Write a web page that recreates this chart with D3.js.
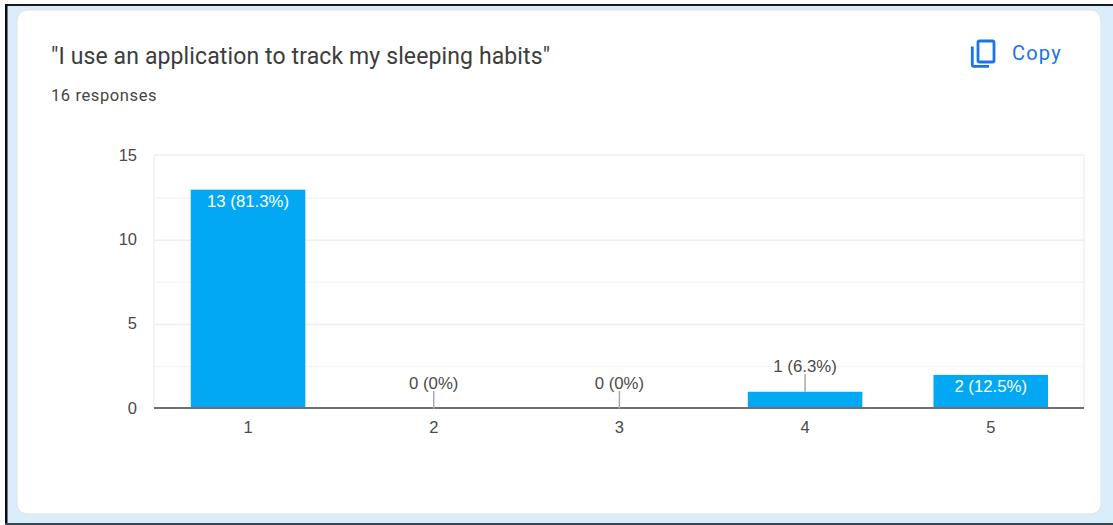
<!DOCTYPE html>
<html>
<head>
<meta charset="utf-8">
<script src="https://cdn.jsdelivr.net/npm/d3@7"></script>
<style>
  html, body { margin: 0; padding: 0; background: #d9eefa; overflow: hidden; }
  svg { display: block; }
  text { font-family: Roboto, Arial, sans-serif; }
  .value, .tick-label { font-family: "Liberation Sans", Arial, sans-serif; }
</style>
</head>
<body>
<svg id="chart" width="1113" height="525"></svg>
<script>
// Survey results for one linear-scale question
const categories = ["1", "2", "3", "4", "5"];
const counts = [13, 0, 0, 1, 2];
const percentLabels = ["81.3%", "0%", "0%", "6.3%", "12.5%"];
const majorTicks = [0, 5, 10, 15];
const gridValues = [2.5, 5, 7.5, 10, 12.5];

const titleText = "\"I use an application to track my sleeping habits\"";
const subtitleText = "16 responses";
const copyText = "Copy";

const svg = d3.select("#chart");

// Page frame and card
svg.append("rect").attr("x", 0).attr("y", 0).attr("width", 1113).attr("height", 525).attr("fill", "#d9eefa");
svg.append("rect").attr("x", 0).attr("y", 0).attr("width", 5).attr("height", 525).attr("fill", "#ffffff");
svg.append("rect").attr("x", 0).attr("y", 0).attr("width", 1113).attr("height", 4).attr("fill", "#ffffff");
svg.append("rect").attr("x", 5).attr("y", 4).attr("width", 1108).attr("height", 2).attr("fill", "#1a1a1a");
svg.append("rect").attr("x", 5).attr("y", 4).attr("width", 2.5).attr("height", 521).attr("fill", "#0c0c0c");
svg.append("rect").attr("x", 5).attr("y", 523).attr("width", 1108).attr("height", 2).attr("fill", "#37474f");
svg.append("rect").attr("x", 30).attr("y", 8).attr("width", 1060).attr("height", 3).attr("fill", "#dce8ee");

svg.append("rect")
  .attr("x", 17).attr("y", 10).attr("width", 1084).attr("height", 504)
  .attr("rx", 10).attr("fill", "#ffffff").attr("stroke", "#dde3e6");

// Header
svg.append("text").attr("x", 51).attr("y", 64)
  .attr("font-size", 23).attr("letter-spacing", 0.12).attr("fill", "#3c3c3c").text(titleText);
svg.append("text").attr("x", 51).attr("y", 101)
  .attr("font-size", 16.5).attr("letter-spacing", 0.6).attr("fill", "#444").text(subtitleText);

// Copy button: two outlined sheets
const icon = svg.append("g").attr("fill", "none").attr("stroke", "#1a73e8").attr("stroke-width", 2.8);
icon.append("rect").attr("x", 978).attr("y", 41).attr("width", 16).attr("height", 21).attr("rx", 1.5);
icon.append("path").attr("d", "M972.3 46.5 V64.5 Q972.3 66.3 974 66.3 H989");
svg.append("text").attr("x", 1012).attr("y", 60)
  .attr("font-size", 20).attr("letter-spacing", 1.2).attr("fill", "#1a73e8").text(copyText);

// Scales
const x = d3.scaleBand().domain(categories).range([155.2, 1083.6]).paddingInner(0.383).paddingOuter(0.1915);
const y = d3.scaleLinear().domain([0, 15]).range([408.6, 156]);

// Plot area outline and grid
const plot = svg.append("g").attr("stroke-width", 1.5);
plot.selectAll("line.grid").data(gridValues).join("line")
  .attr("class", "grid")
  .attr("x1", 154).attr("x2", 1084)
  .attr("y1", d => y(d)).attr("y2", d => y(d))
  .attr("stroke", d => d % 5 === 0 ? "#eeeeee" : "#f5f5f5");
plot.append("line").attr("x1", 154).attr("x2", 1084).attr("y1", 155).attr("y2", 155).attr("stroke", "#eeeeee");
plot.append("line").attr("x1", 154).attr("x2", 154).attr("y1", 155).attr("y2", 408).attr("stroke", "#f0f0f0");
plot.append("line").attr("x1", 1084).attr("x2", 1084).attr("y1", 155).attr("y2", 408).attr("stroke", "#f0f0f0");

// Bars
const labelData = counts.map((d, i) => ({ d, cat: categories[i], pct: percentLabels[i] }));
const centre = l => x(l.cat) + x.bandwidth() / 2;
const fitsInside = l => l.d >= 2;

svg.append("g").selectAll("rect").data(labelData).join("rect")
  .attr("x", l => x(l.cat))
  .attr("y", l => y(l.d))
  .attr("width", x.bandwidth())
  .attr("height", l => y(0) - y(l.d))
  .attr("fill", "#02a8f3");

// Baseline
svg.append("line").attr("x1", 154).attr("x2", 1084).attr("y1", 408).attr("y2", 408)
  .attr("stroke", "#6b7074").attr("stroke-width", 2);

// Leader lines for values that do not fit inside their bar
svg.append("g").selectAll("line").data(labelData.filter(l => !fitsInside(l))).join("line")
  .attr("x1", centre).attr("x2", centre)
  .attr("y1", l => y(l.d) - 17.5).attr("y2", l => y(l.d))
  .attr("stroke", "#a9a9a9").attr("stroke-width", 1.5);

// Value labels
svg.append("g").selectAll("text").data(labelData).join("text")
  .attr("class", "value")
  .attr("x", centre)
  .attr("y", l => fitsInside(l) ? y(l.d) + 17 : y(l.d) - 20)
  .attr("text-anchor", "middle").attr("font-size", 16.8)
  .attr("fill", l => fitsInside(l) ? "#ffffff" : "#4a4a4a")
  .text(l => `${l.d} (${l.pct})`);

// Axis labels
svg.append("g").selectAll("text").data(categories).join("text")
  .attr("class", "tick-label")
  .attr("x", d => x(d) + x.bandwidth() / 2).attr("y", 433)
  .attr("text-anchor", "middle").attr("font-size", 16.5).attr("fill", "#4a4a4a").text(d => d);
svg.append("g").selectAll("text").data(majorTicks).join("text")
  .attr("class", "tick-label")
  .attr("x", 137).attr("y", d => y(d) + 5)
  .attr("text-anchor", "end").attr("font-size", 16.5).attr("fill", "#4a4a4a").text(d => d);
</script>
</body>
</html>
